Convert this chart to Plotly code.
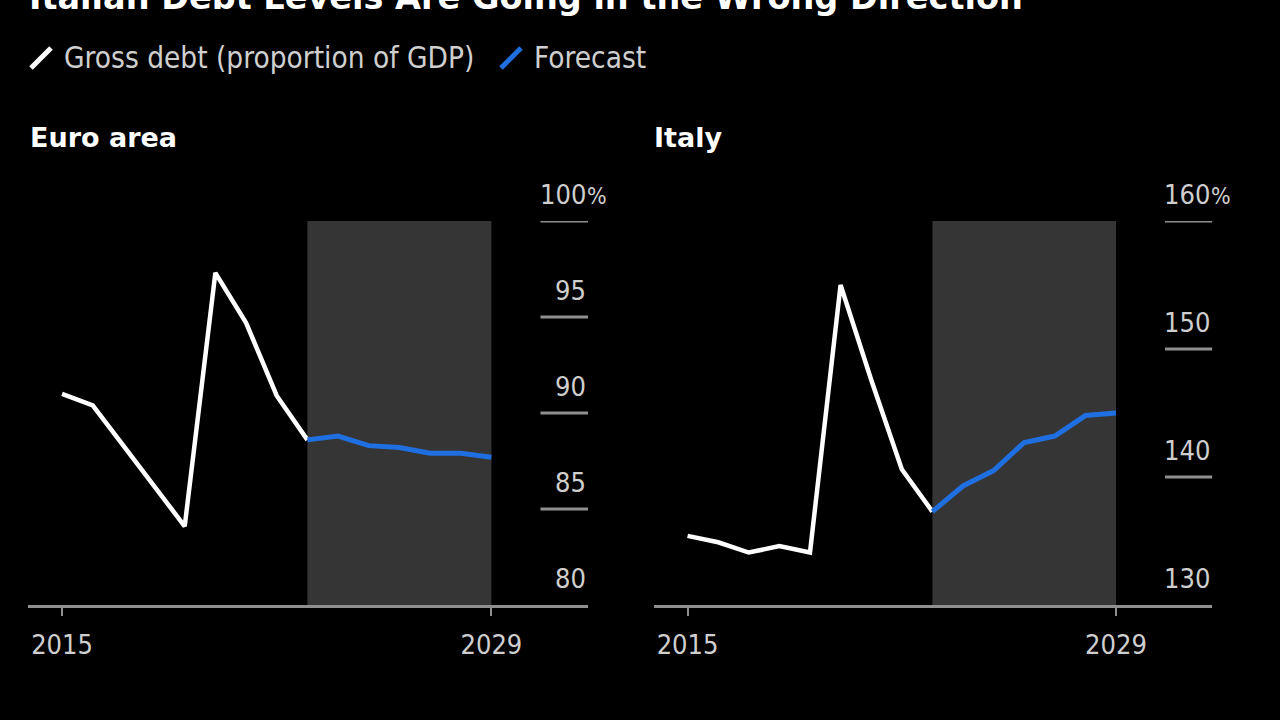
import plotly.graph_objects as go

# ---------------- data ----------------
years_hist = list(range(2015, 2024))
years_fcst = list(range(2023, 2030))

euro_hist = [91.0, 90.4, 88.3, 86.2, 84.1, 97.3, 94.7, 90.9, 88.6]
euro_fcst = [88.6, 88.8, 88.3, 88.2, 87.9, 87.9, 87.7]

italy_hist = [135.4, 134.9, 134.1, 134.6, 134.1, 155.0, 147.6, 140.6, 137.3]
italy_fcst = [137.3, 139.3, 140.5, 142.7, 143.2, 144.8, 145.0]

panel_titles = ["Euro area", "Italy"]
euro_ticks = [100, 95, 90, 85, 80]
italy_ticks = [160, 150, 140, 130]
x_ticks = [2015, 2029]
forecast_start, forecast_end = 2023, 2029

title_text = "Italian Debt Levels Are Going in the Wrong Direction"
legend_labels = ["Gross debt (proportion of GDP)", "Forecast"]

# ---------------- style ----------------
W, H = 1280, 720
BG = "#000000"
WHITE = "#ffffff"
BLUE = "#1f6fe0"
SHADE = "#353535"
AXIS = "#8f8f8f"
TXT = "#cfcfcf"
COND = "DejaVu Sans Condensed, DejaVu Sans, sans-serif"
BOLD = "DejaVu Sans, sans-serif"

XR = [2013.89, 2032.15]
GRID_X0 = 2030.6

def px_x(p):
    return p / W

def px_y(p):
    return 1 - p / H

fig = go.Figure()

panels = [
    dict(xa="x", ya="y", hist=euro_hist, fcst=euro_fcst, ticks=euro_ticks,
         yr=[80, 100], dom=[px_x(28), px_x(588)], title_x=28),
    dict(xa="x2", ya="y2", hist=italy_hist, fcst=italy_fcst, ticks=italy_ticks,
         yr=[130, 160], dom=[px_x(653.6), px_x(1212.4)], title_x=652),
]

ydom = [px_y(605), px_y(221)]
shapes = []
annotations = []

for i, p in enumerate(panels):
    fig.add_trace(go.Scatter(x=years_hist, y=p["hist"], mode="lines",
                             line=dict(color=WHITE, width=4.5), xaxis=p["xa"], yaxis=p["ya"],
                             showlegend=False, hoverinfo="skip"))
    fig.add_trace(go.Scatter(x=years_fcst, y=p["fcst"], mode="lines",
                             line=dict(color=BLUE, width=5), xaxis=p["xa"], yaxis=p["ya"],
                             showlegend=False, hoverinfo="skip"))
    # forecast shading
    shapes.append(dict(type="rect", xref=p["xa"], yref=p["ya"], x0=forecast_start, x1=forecast_end,
                       y0=p["yr"][0], y1=p["yr"][1], fillcolor=SHADE, line=dict(width=0), layer="below"))
    # y tick marks + labels (right side)
    for j, t in enumerate(p["ticks"]):
        if t != p["yr"][0]:
            shapes.append(dict(type="line", xref=p["xa"], yref=p["ya"], x0=GRID_X0, x1=XR[1],
                               y0=t, y1=t, line=dict(color=AXIS, width=3)))
        annotations.append(dict(xref=p["xa"], yref=p["ya"], x=XR[1], y=t, text=str(t),
                                xanchor="right", yanchor="bottom", showarrow=False, yshift=9,
                                font=dict(family=COND, size=27, color=TXT)))
        if j == 0:
            annotations.append(dict(xref=p["xa"], yref=p["ya"], x=XR[1], y=t, text="%",
                                    xanchor="left", yanchor="bottom", showarrow=False, yshift=10, xshift=-3,
                                    font=dict(family=COND, size=23, color=TXT)))
    # panel title
    annotations.append(dict(xref="paper", yref="paper", x=px_x(p["title_x"]), y=px_y(137),
                            text="<b>%s</b>" % panel_titles[i], xanchor="left", yanchor="middle",
                            showarrow=False, font=dict(family=BOLD, size=27, color=WHITE)))

axis_common = dict(range=XR, tickvals=x_ticks, ticktext=[str(v) for v in x_ticks],
                   showgrid=False, zeroline=False, showline=True, linecolor=AXIS, linewidth=3,
                   ticks="outside", ticklen=8, tickwidth=2, tickcolor=AXIS, ticklabelstandoff=6,
                   tickfont=dict(family=COND, size=27, color=TXT), fixedrange=True)

fig.update_layout(
    xaxis=dict(domain=panels[0]["dom"], anchor="y", **axis_common),
    xaxis2=dict(domain=panels[1]["dom"], anchor="y2", **axis_common),
    yaxis=dict(domain=ydom, range=panels[0]["yr"], visible=False, anchor="x"),
    yaxis2=dict(domain=ydom, range=panels[1]["yr"], visible=False, anchor="x2"),
)

# legend (custom)
shapes.append(dict(type="line", xref="paper", yref="paper", x0=px_x(31), y0=px_y(68),
                   x1=px_x(51), y1=px_y(48), line=dict(color=WHITE, width=5)))
shapes.append(dict(type="line", xref="paper", yref="paper", x0=px_x(501), y0=px_y(68),
                   x1=px_x(521), y1=px_y(48), line=dict(color=BLUE, width=5)))
annotations.append(dict(xref="paper", yref="paper", x=px_x(62), y=px_y(58), text=legend_labels[0],
                        xanchor="left", yanchor="middle", showarrow=False,
                        font=dict(family=COND, size=29.5, color=TXT)))
annotations.append(dict(xref="paper", yref="paper", x=px_x(532), y=px_y(58), text=legend_labels[1],
                        xanchor="left", yanchor="middle", showarrow=False,
                        font=dict(family=COND, size=29.5, color=TXT)))
# title (cut off at top, as in the reference)
annotations.append(dict(xref="paper", yref="paper", x=px_x(27), y=px_y(19), text="<b>%s</b>" % title_text,
                        xanchor="left", yanchor="bottom", showarrow=False,
                        font=dict(family=BOLD, size=33.5, color=WHITE)))

fig.update_layout(
    width=W, height=H, margin=dict(l=0, r=0, t=0, b=0),
    paper_bgcolor=BG, plot_bgcolor=BG, showlegend=False,
    shapes=shapes, annotations=annotations,
)

fig.write_html("out.html", config={"displayModeBar": False},
               post_script="document.body.style.margin='0';document.body.style.overflow='hidden';document.body.style.background='#000';")
